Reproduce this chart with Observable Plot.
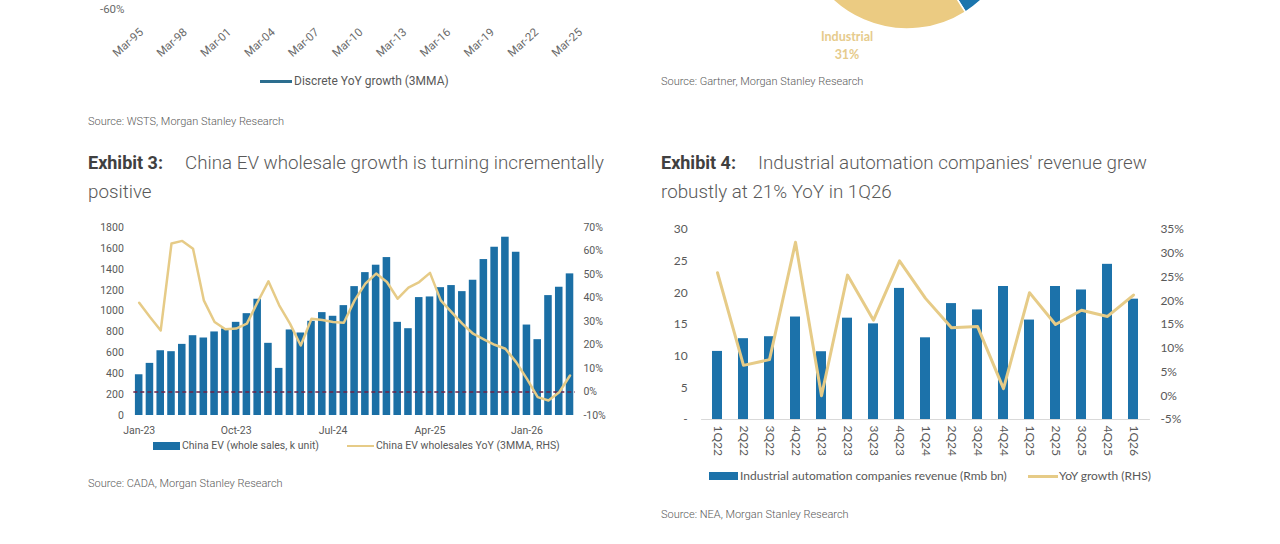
<!DOCTYPE html>
<html><head><meta charset="utf-8">
<script src="https://cdn.jsdelivr.net/npm/d3@7"></script>
<script src="https://cdn.jsdelivr.net/npm/@observablehq/plot@0.6"></script>
<style>
body{margin:0;width:1280px;height:544px;background:#fff;position:relative;overflow:hidden;font-family:Roboto,sans-serif;}
.abs{position:absolute;}
.src{font-size:11px;color:#595959;font-weight:300;line-height:14px;white-space:nowrap;}
.title{font-size:18.8px;color:#595959;font-weight:300;line-height:29px;white-space:nowrap;}
.title b{font-size:18px;font-weight:700;color:#404040;display:inline-block;width:97px;}
.lg{line-height:14px;white-space:nowrap;color:#595959;}
svg{overflow:visible;}
</style></head><body>
<div id="ex1" class="abs" style="left:0;top:0"></div>
<div id="pie" class="abs" style="left:640px;top:0"></div>
<div id="ex3" class="abs" style="left:80px;top:210px"></div>
<div id="ex4" class="abs" style="left:650px;top:210px"></div>

<div class="abs" style="left:260px;top:79.5px;width:32px;height:3px;background:#2c6e8f"></div>
<div class="abs lg" style="left:294px;top:74px;font-size:12px;">Discrete YoY growth (3MMA)</div>
<div class="abs src" style="left:88px;top:115px">Source: WSTS, Morgan Stanley Research</div>

<div class="abs" style="left:800px;top:28px;width:94px;text-align:center;font-family:Lato;font-weight:700;font-size:12.5px;line-height:18px;color:#e6cb8c">Industrial<br>31%</div>
<div class="abs src" style="left:661px;top:75px">Source: Gartner, Morgan Stanley Research</div>

<div class="abs title" style="left:88px;top:148px"><b>Exhibit 3:</b>China EV wholesale growth is turning incrementally<br>positive</div>
<div class="abs title" style="left:661px;top:148px"><b>Exhibit 4:</b>Industrial automation companies' revenue grew<br>robustly at 21% YoY in 1Q26</div>

<div class="abs" style="left:153px;top:442px;width:27px;height:8px;background:#1b6fa5"></div>
<div class="abs lg" style="left:182px;top:439px;font-size:10.5px">China EV (whole sales, k unit)</div>
<div class="abs" style="left:347px;top:445px;width:27px;height:2px;background:#e6cb87"></div>
<div class="abs lg" style="left:376px;top:439px;font-size:10.5px">China EV wholesales YoY (3MMA, RHS)</div>
<div class="abs src" style="left:88px;top:477px">Source: CADA, Morgan Stanley Research</div>

<div class="abs" style="left:709px;top:472px;width:29px;height:8px;background:#1c72aa"></div>
<div class="abs lg" style="left:740px;top:469px;font-size:12px;font-family:Lato">Industrial automation companies revenue (Rmb bn)</div>
<div class="abs" style="left:1028px;top:475px;width:30px;height:2.5px;background:#e6cb87"></div>
<div class="abs lg" style="left:1059px;top:469px;font-size:12px;font-family:Lato">YoY growth (RHS)</div>
<div class="abs src" style="left:661px;top:508px">Source: NEA, Morgan Stanley Research</div>

<script>
// ---------- Exhibit 1 (bottom remnant) ----------
const ex1TickLabels = ["Mar-95","Mar-98","Mar-01","Mar-04","Mar-07","Mar-10","Mar-13","Mar-16","Mar-19","Mar-22","Mar-25"];
const ex1YTicks = [-60];

// ---------- Exhibit 2 (pie remnant) ----------
const pieSegments = ["Communications","Automotive","Industrial","Consumer","Data processing"];
const pieShares = [14, 27, 31, 13, 15];
const pieColors = ["#9fb7c9","#1b75ad","#ebcb82","#7f7f7f","#a6a6a6"];

// ---------- Exhibit 3 ----------
const evMonths = ["Jan-23","Feb-23","Mar-23","Apr-23","May-23","Jun-23","Jul-23","Aug-23","Sep-23","Oct-23","Nov-23","Dec-23",
  "Jan-24","Feb-24","Mar-24","Apr-24","May-24","Jun-24","Jul-24","Aug-24","Sep-24","Oct-24","Nov-24","Dec-24",
  "Jan-25","Feb-25","Mar-25","Apr-25","May-25","Jun-25","Jul-25","Aug-25","Sep-25","Oct-25","Nov-25","Dec-25",
  "Jan-26","Feb-26","Mar-26","Apr-26","May-26"];
const evSales = [390,499,620,611,681,764,742,800,828,892,975,1113,
  691,451,819,790,902,985,950,1052,1234,1368,1439,1512,
  892,831,1129,1135,1224,1244,1186,1295,1493,1611,1707,1563,
  866,726,1148,1228,1356];
const evYoY = [38.0,31.9,26.2,63.2,64.3,61.0,39.0,29.8,26.7,27.0,29.1,38.3,
  47.1,36.9,29.1,19.8,31.2,30.6,29.8,29.5,39.0,46.1,50.4,46.8,
  39.7,44.4,46.8,50.7,39.0,34.0,29.1,24.8,22.4,20.1,18.4,12.7,
  5.6,-2.2,-3.6,-0.1,7.0];
const evXTicks = ["Jan-23","Oct-23","Jul-24","Apr-25","Jan-26"];
const evLeftTicks = [0,200,400,600,800,1000,1200,1400,1600,1800];
const evRightTicks = [-10,0,10,20,30,40,50,60,70];

// ---------- Exhibit 4 ----------
const iaQuarters = ["1Q22","2Q22","3Q22","4Q22","1Q23","2Q23","3Q23","4Q23","1Q24","2Q24","3Q24","4Q24","1Q25","2Q25","3Q25","4Q25","1Q26"];
const iaRevenue = [10.75,12.76,13.07,16.18,10.7,16.0,15.1,20.7,12.9,18.3,17.3,21.0,15.7,21.0,20.45,24.5,19.0];
const iaYoY = [25.9,6.4,7.6,32.3,0.0,25.4,15.9,28.4,20.5,14.3,14.6,1.5,21.7,15.0,18.0,16.7,21.2];
const iaLeftTicks = [0,5,10,15,20,25,30];
const iaRightTicks = [-5,0,5,10,15,20,25,30,35];

// ===== Exhibit 1 =====
const parseM = d3.utcParse("%b-%y");
const ex1Dates = ex1TickLabels.map(parseM);
document.getElementById("ex1").append(Plot.plot({
  width: 640, height: 62, marginTop: 0, marginBottom: 53, marginLeft: 141, marginRight: 60,
  style: {fontFamily: "Roboto", fontSize: "11.5px", color: "#6b6b6b", background: "transparent"},
  x: {type: "utc", domain: [ex1Dates[0], ex1Dates[ex1Dates.length - 1]]},
  y: {domain: [-60, -50]},
  marks: [
    Plot.axisY(ex1YTicks, {tickSize: 0, tickPadding: 17, label: null, tickFormat: d => d + "%"}),
    Plot.axisX(ex1Dates, {tickSize: 0, tickPadding: 21, tickRotate: -42, label: null, tickFormat: (d, i) => ex1TickLabels[i]})
  ]
}));

// ===== Exhibit 2 pie =====
const pieData = pieSegments.map((s, i) => ({s, v: pieShares[i], c: pieColors[i]}));
document.getElementById("pie").append(Plot.plot({
  width: 560, height: 70, margin: 0,
  style: {background: "transparent"},
  marks: [
    () => {
      const g = d3.create("svg:g").attr("transform", "translate(267,-80)");
      const arcs = d3.pie().sort(null).value(d => d.v)(pieData);
      const arc = d3.arc().innerRadius(0).outerRadius(109);
      g.selectAll("path").data(arcs).join("path")
        .attr("d", arc).attr("fill", d => d.data.c)
        .attr("stroke", "#fff").attr("stroke-width", 1.5);
      return g.node();
    }
  ]
}));

// ===== Exhibit 3 =====
const evPct = d3.scaleLinear().domain([-10, 70]).range([0, 1800]);
const evData = evMonths.map((m, i) => ({m, v: evSales[i], yoy: evYoY[i]}));
document.getElementById("ex3").append(Plot.plot({
  width: 550, height: 230, marginTop: 17, marginBottom: 25, marginLeft: 53.3, marginRight: 55.1,
  style: {fontFamily: "Roboto", fontSize: "10.5px", color: "#595959", background: "transparent"},
  x: {type: "band", domain: evMonths, paddingInner: 0.3, paddingOuter: 0.15},
  y: {domain: [0, 1800]},
  marks: [
    Plot.barY(evData, {x: "m", y: "v", fill: "#1b6fa5"}),
    Plot.ruleY([evPct(0)], {stroke: "#6e2346", strokeWidth: 1.5, strokeDasharray: "4,3"}),
    Plot.line(evData, {x: "m", y: d => evPct(d.yoy), stroke: "#e6cb87", strokeWidth: 2.5}),
    Plot.axisY(evLeftTicks, {anchor: "left", tickSize: 0, tickPadding: 10, label: null, tickFormat: d => String(d)}),
    Plot.axisY(evRightTicks.map(evPct), {anchor: "right", tickSize: 0, tickPadding: 8, label: null, tickFormat: d => Math.round(evPct.invert(d)) + "%"}),
    Plot.axisX(evXTicks, {tickSize: 0, tickPadding: 11, label: null})
  ]
}));

// ===== Exhibit 4 =====
const iaPct = d3.scaleLinear().domain([-5, 35]).range([0, 30]);
const iaData = iaQuarters.map((q, i) => ({q, v: iaRevenue[i], yoy: iaYoY[i]}));
document.getElementById("ex4").append(Plot.plot({
  width: 560, height: 250, marginTop: 19, marginBottom: 41, marginLeft: 51.1, marginRight: 60.1,
  style: {fontFamily: "Lato", fontSize: "12px", color: "#595959", background: "transparent"},
  x: {type: "band", domain: iaQuarters, paddingInner: 0.6, paddingOuter: 0.3},
  y: {domain: [0, 30]},
  marks: [
    Plot.barY(iaData, {x: "q", y: "v", fill: "#1c72aa"}),
    Plot.ruleY([0], {stroke: "#d9d9d9", strokeWidth: 1}),
    Plot.line(iaData, {x: "q", y: d => iaPct(d.yoy), stroke: "#e6cb87", strokeWidth: 3}),
    Plot.axisY(iaLeftTicks, {anchor: "left", tickSize: 0, tickPadding: 14, label: null, tickFormat: d => d === 0 ? "-" : String(d)}),
    Plot.axisY(iaRightTicks.map(iaPct), {anchor: "right", tickSize: 0, tickPadding: 10, label: null, tickFormat: d => Math.round(iaPct.invert(d)) + "%"}),
    Plot.axisX(iaQuarters, {tickSize: 0, tickPadding: 6, tickRotate: 90, label: null})
  ]
}));
</script>
</body></html>
